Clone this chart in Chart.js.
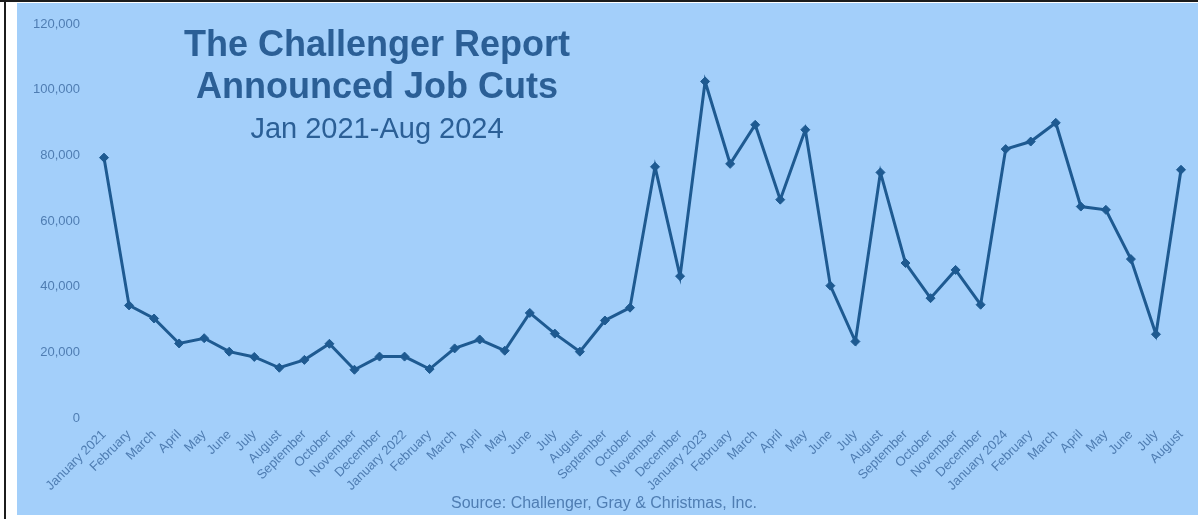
<!DOCTYPE html>
<html>
<head>
<meta charset="utf-8">
<script src="https://cdn.jsdelivr.net/npm/chart.js@4/dist/chart.umd.min.js"></script>
<style>
  html, body { margin: 0; padding: 0; background: #ffffff; }
  body { width: 1198px; height: 519px; position: relative; overflow: hidden; font-family: "Liberation Sans", Arial, sans-serif; }
  #frameTop { position: absolute; left: 0; top: 0; width: 1198px; height: 2px; background: #1c1c1c; }
  #frameLeft { position: absolute; left: 4px; top: 0; width: 2px; height: 519px; background: #1c1c1c; }
  #wrap { position: absolute; left: 17px; top: 3px; width: 1181px; height: 512px; background: #a3cffa; }
  canvas { display: block; }
</style>
</head>
<body>
<div id="frameTop"></div>
<div id="frameLeft"></div>
<div id="wrap"><canvas id="c" width="1181" height="512"></canvas></div>
<script>
const categories = [
  "January 2021","February","March","April","May","June","July","August","September","October","November","December",
  "January 2022","February","March","April","May","June","July","August","September","October","November","December",
  "January 2023","February","March","April","May","June","July","August","September","October","November","December",
  "January 2024","February","March","April","May","June","July","August"
];
const cuts2021 = [79300, 34300, 30300, 22700, 24300, 20200, 18600, 15300, 17700, 22600, 14700, 18700];
const cuts2022 = [18700, 14900, 21200, 23900, 20500, 32000, 25700, 20200, 29700, 33600, 76500, 43200];
const cuts2023 = [102500, 77400, 89300, 66500, 87800, 40300, 23300, 74800, 47200, 36500, 45100, 34500];
const cuts2024 = [81900, 84200, 89900, 64400, 63400, 48400, 25500, 75600];
const jobCuts = [...cuts2021, ...cuts2022, ...cuts2023, ...cuts2024];
const yTicks = [0, 20000, 40000, 60000, 80000, 100000, 120000];
const titleLines = ["The Challenger Report", "Announced Job Cuts"];
const subtitleText = "Jan 2021-Aug 2024";
const sourceText = "Source: Challenger, Gray & Christmas, Inc.";

const lineColor = "#1e5a91";
const textColor = "#2b5f96";
const tickColor = "#4f7db2";

const overlayText = {
  id: "overlayText",
  afterDraw(chart) {
    const ctx = chart.ctx;
    ctx.save();
    ctx.textAlign = "center";
    ctx.textBaseline = "alphabetic";
    ctx.fillStyle = textColor;
    ctx.font = "bold 36px 'Liberation Sans', Arial, sans-serif";
    ctx.fillText(titleLines[0], 360, 53);
    ctx.fillText(titleLines[1], 360, 95);
    ctx.font = "29px 'Liberation Sans', Arial, sans-serif";
    ctx.fillText(subtitleText, 360, 135);
    ctx.fillStyle = tickColor;
    ctx.font = "16px 'Liberation Sans', Arial, sans-serif";
    ctx.fillText(sourceText, 587, 505);
    ctx.restore();
  }
};

new Chart(document.getElementById("c"), {
  type: "line",
  data: {
    labels: categories,
    datasets: [{
      label: "Announced Job Cuts",
      data: jobCuts,
      borderColor: lineColor,
      backgroundColor: lineColor,
      borderWidth: 3,
      pointStyle: "rectRot",
      pointRadius: 4.5,
      pointBackgroundColor: lineColor,
      pointBorderColor: lineColor,
      pointBorderWidth: 1,
      tension: 0,
      fill: false
    }]
  },
  options: {
    responsive: false,
    animation: false,
    devicePixelRatio: 1,
    layout: { padding: { left: 0, right: 17, top: 21, bottom: 0 } },
    plugins: { legend: { display: false }, tooltip: { enabled: false }, title: { display: false } },
    scales: {
      x: {
        grid: { display: false, drawTicks: false },
        border: { display: false },
        ticks: {
          autoSkip: false, maxRotation: 45, minRotation: 45, padding: 9,
          color: tickColor, font: { family: "'Liberation Sans', Arial, sans-serif", size: 13 }
        },
        afterFit(scale) { scale.height = 97; scale.paddingLeft = 0; scale.paddingRight = 0; }
      },
      y: {
        min: 0, max: 120000,
        grid: { display: false, drawTicks: false },
        border: { display: false },
        afterBuildTicks(scale) { scale.ticks = yTicks.map(v => ({ value: v })); },
        ticks: {
          padding: 24,
          color: tickColor, font: { family: "'Liberation Sans', Arial, sans-serif", size: 13 },
          callback: v => v.toLocaleString("en-US")
        },
        afterFit(scale) { scale.width = 87; scale.paddingTop = 0; scale.paddingBottom = 0; }
      }
    }
  },
  plugins: [overlayText]
});
</script>
</body>
</html>
